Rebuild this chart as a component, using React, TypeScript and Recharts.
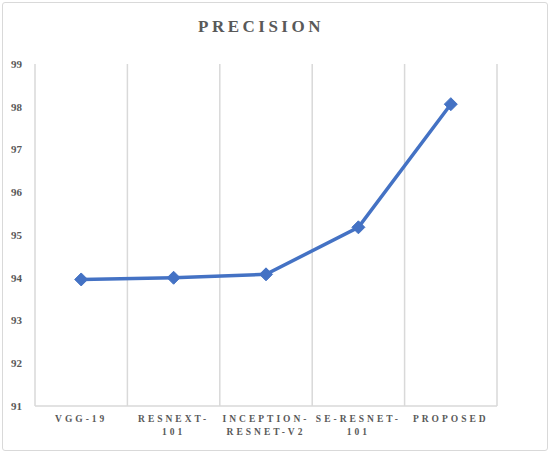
import { LineChart, Line, XAxis, YAxis, CartesianGrid } from 'recharts';

const models = ['VGG-19', 'RESNEXT-101', 'INCEPTION-RESNET-V2', 'SE-RESNET-101', 'PROPOSED'];
const labelLines = [['VGG-19'], ['RESNEXT-', '101'], ['INCEPTION-', 'RESNET-V2'], ['SE-RESNET-', '101'], ['PROPOSED']];
const precision = [93.96, 94.0, 94.08, 95.18, 98.06];
const yTicks = [91, 92, 93, 94, 95, 96, 97, 98, 99];

const data = models.map((m, i) => ({ name: m, value: precision[i], lines: labelLines[i] }));

const FONT = '"Liberation Serif", "Times New Roman", serif';
const TEXT = '#595959';
const BLUE = '#4472C4';

function CategoryTick(props: any) {
  const { x, y, payload } = props;
  const lines = labelLines[payload.index] || [payload.value];
  return (
    <g transform={`translate(${x},${y})`}>
      {lines.map((l: string, i: number) => (
        <text
          key={i}
          x={0}
          y={16 + i * 13}
          textAnchor="middle"
          fill={TEXT}
          fontFamily={FONT}
          fontWeight="bold"
          fontSize={9.5}
          letterSpacing={3}
        >
          {l}
        </text>
      ))}
    </g>
  );
}

function Diamond(props: any) {
  const { cx, cy } = props;
  if (cx == null || cy == null) return null;
  const r = 6.5;
  return (
    <polygon
      points={`${cx},${cy - r} ${cx + r},${cy} ${cx},${cy + r} ${cx - r},${cy}`}
      fill={BLUE}
      stroke={BLUE}
    />
  );
}

export default function App() {
  return (
    <div style={{ position: 'absolute', left: 0, top: 0, width: 550, height: 454, background: '#fff' }}>
      <div
        style={{
          position: 'absolute',
          left: 2,
          top: 2,
          width: 544,
          height: 447,
          border: '1px solid #d9d9d9',
          borderRadius: 3,
        }}
      />
      <div
        style={{
          position: 'absolute',
          left: 0,
          top: 17,
          width: 522,
          textAlign: 'center',
          fontFamily: FONT,
          fontWeight: 'bold',
          fontSize: 17,
          letterSpacing: 3.5,
          color: TEXT,
        }}
      >
        PRECISION
      </div>
      <LineChart
        width={550}
        height={454}
        data={data}
        margin={{ top: 64, right: 53, left: 5, bottom: 0 }}
        style={{ position: 'absolute', left: 0, top: 0 }}
      >
        <CartesianGrid
          horizontal={false}
          stroke="#d9d9d9"
          strokeWidth={1.5}
          verticalCoordinatesGenerator={({ offset }: any) =>
            Array.from({ length: models.length + 1 }, (_, i) => offset.left + (i * offset.width) / models.length)
          }
        />
        <XAxis
          dataKey="name"
          scale="band"
          height={48}
          tick={<CategoryTick />}
          tickLine={false}
          axisLine={{ stroke: '#d9d9d9', strokeWidth: 1.5 }}
          interval={0}
          tickMargin={0}
          tickSize={0}
        />
        <YAxis
          width={30}
          domain={[91, 99]}
          ticks={yTicks}
          tickLine={false}
          axisLine={false}
          tickMargin={7}
          tick={{ fill: TEXT, fontFamily: FONT, fontWeight: 'bold', fontSize: 11 }}
        />
        <Line
          type="linear"
          dataKey="value"
          stroke={BLUE}
          strokeWidth={3.5}
          dot={<Diamond />}
          activeDot={false}
          isAnimationActive={false}
        />
      </LineChart>
    </div>
  );
}
